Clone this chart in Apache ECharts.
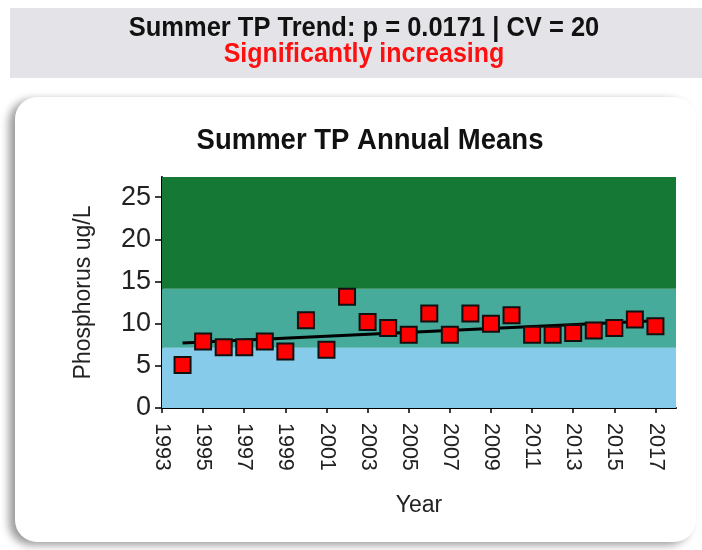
<!DOCTYPE html>
<html>
<head>
<meta charset="utf-8">
<script src="https://cdn.jsdelivr.net/npm/echarts@6/dist/echarts.min.js"></script>
<style>
  html, body { margin: 0; padding: 0; background: #fff; }
  #wrap { position: relative; width: 702px; height: 550px; overflow: hidden; }
  #header { position: absolute; left: 10px; top: 8px; width: 692px; height: 70px; background: #e4e4e8; }
  #card { position: absolute; left: 15px; top: 97px; width: 681px; height: 445px; background: #fff;
          border-radius: 22px; box-shadow: -6px 3px 9px rgba(0,0,0,0.4); }
  #chart { position: absolute; left: 0; top: 0; width: 702px; height: 550px; }
</style>
</head>
<body>
<div id="wrap">
  <div id="header"></div>
  <div id="card"></div>
  <div id="chart"></div>
</div>
<script>
// annual summer means (ug/L)
var years = [1994, 1995, 1996, 1997, 1998, 1999, 2000, 2001, 2002, 2003, 2004, 2005,
             2006, 2007, 2008, 2009, 2010, 2011, 2012, 2013, 2014, 2015, 2016, 2017];
var tpMeans = [5.1, 7.9, 7.2, 7.2, 7.9, 6.7, 10.4, 6.9, 13.2, 10.2, 9.5, 8.7,
               11.2, 8.7, 11.2, 10.0, 11.0, 8.7, 8.7, 8.9, 9.2, 9.5, 10.5, 9.7];

// fitted trend end points
var trendYears = [1994, 2017];
var trendValues = [7.7, 10.35];

// trophic bands: edges and colours (low -> high)
var bandEdges = [0, 7.15, 14.15, 27.4];
var bandColors = ['#87cbeb', '#46ab9b', '#157834'];

var xTicks = [1993, 1995, 1997, 1999, 2001, 2003, 2005, 2007, 2009, 2011, 2013, 2015, 2017];
var yTicks = [0, 5, 10, 15, 20, 25];

var mainTitle = 'Summer TP Trend: p = 0.0171 | CV = 20';
var subTitle = 'Significantly increasing';
var chartTitle = 'Summer TP Annual Means';

var font = '"Liberation Sans", Arial, sans-serif';

var points = years.map(function (y, i) { return [y, tpMeans[i]]; });
var trend = trendYears.map(function (y, i) { return [y, trendValues[i]]; });
var bands = [];
for (var i = 0; i < bandColors.length; i++) {
  bands.push([{ yAxis: bandEdges[i], itemStyle: { color: bandColors[i], opacity: 1 } },
              { yAxis: bandEdges[i + 1] }]);
}

var chart = echarts.init(document.getElementById('chart'), null, { renderer: 'canvas' });
chart.setOption({
  animation: false,
  backgroundColor: 'transparent',
  textStyle: { fontFamily: font },
  graphic: [
    { type: 'text', x: 364, y: 28, scaleY: 1.08, style: { text: mainTitle, fill: '#111',
      font: 'bold 25.5px ' + font, align: 'center', verticalAlign: 'middle' } },
    { type: 'text', x: 364, y: 55, scaleY: 1.08, style: { text: subTitle, fill: '#ff1010',
      font: 'bold 25px ' + font, align: 'center', verticalAlign: 'middle' } },
    { type: 'text', x: 370, y: 141, scaleY: 1.05, style: { text: chartTitle, fill: '#111',
      font: 'bold 27.5px ' + font, align: 'center', verticalAlign: 'middle' } }
  ],
  grid: { left: 162, right: 26, top: 177, bottom: 142, outerBoundsMode: 'none' },
  xAxis: {
    type: 'value', min: 1993, max: 2018,
    name: 'Year', nameLocation: 'middle', nameGap: 86,
    nameTextStyle: { fontSize: 23, color: '#222', fontFamily: font },
    axisLine: { show: true, onZero: false, lineStyle: { color: '#000', width: 2 } },
    axisTick: { show: true, length: 5, customValues: xTicks, lineStyle: { color: '#000', width: 1.5 } },
    axisLabel: { customValues: xTicks, rotate: -90, margin: 15, fontSize: 21.5, color: '#222',
      fontFamily: font, formatter: function (v) { return String(v); } },
    splitLine: { show: false }
  },
  yAxis: {
    type: 'value', min: 0, max: bandEdges[bandEdges.length - 1],
    name: 'Phosphorus ug/L', nameLocation: 'middle', nameGap: 67,
    nameTextStyle: { fontSize: 23, color: '#222', fontFamily: font },
    axisLine: { show: true, lineStyle: { color: '#000', width: 2 } },
    axisTick: { show: true, length: 7, customValues: yTicks, lineStyle: { color: '#000', width: 1.5 } },
    axisLabel: { customValues: yTicks, margin: 11, fontSize: 27, color: '#222', fontFamily: font },
    splitLine: { show: false }
  },
  series: [
    {
      type: 'line', data: trend, symbol: 'none', z: 3,
      lineStyle: { color: '#000', width: 3 },
      markArea: { silent: true, z: 1, data: bands }
    },
    {
      type: 'scatter', data: points, symbol: 'rect', symbolSize: 16, z: 4,
      itemStyle: { color: '#ff0000', borderColor: '#111', borderWidth: 2, opacity: 1 }
    }
  ]
});
</script>
</body>
</html>
